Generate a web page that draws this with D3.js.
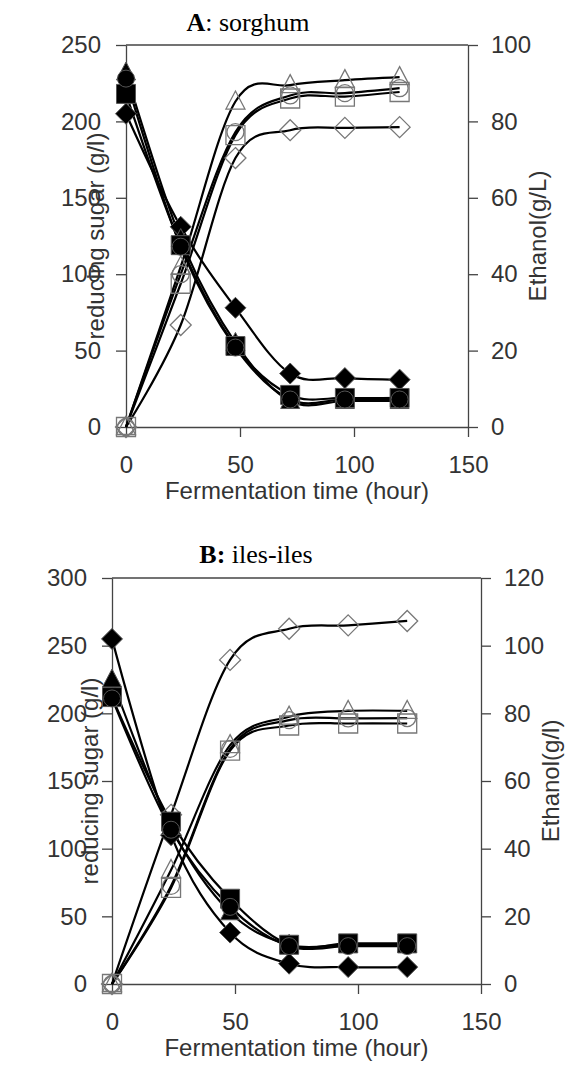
<!DOCTYPE html>
<html lang="en">
<head>
<meta charset="UTF-8">
<title>Reducing sugar and ethanol during fermentation</title>
<script src="https://cdn.jsdelivr.net/npm/d3@7"></script>
<style>
	body { margin: 0; background: #fff; }
	svg text { font-family: "Liberation Sans", Arial, sans-serif; fill: #333; }
	text.title { font-family: "Liberation Serif", "Times New Roman", serif; fill: #000; }
</style>
</head>
<body>
<svg id="chart" width="575" height="1068"></svg>
<script>

// fermentation time points (hour)
const hours = [0, 24, 48, 72, 96, 120];
const xTicks = [0, 50, 100, 150];

// A: sorghum - reducing sugar (g/l), filled markers
const sugarA_diamond  = [205, 131, 78, 35, 32, 31];
const sugarA_triangle = [232, 123, 55, 17, 17, 17];
const sugarA_square   = [218, 119, 53, 21, 19, 19];
const sugarA_circle   = [228, 118, 52, 18, 18, 18];
// A: sorghum - ethanol (g/L), open markers
const ethA_diamond  = [0, 26.7, 70.4, 77.7, 78.3, 78.5];
const ethA_triangle = [0, 42, 85.2, 89.5, 90.8, 91.6];
const ethA_square   = [0, 37.5, 76.4, 86, 86.5, 87.7];
const ethA_circle   = [0, 40, 77.2, 86.8, 87.4, 88.7];
const sugarTicksA = [0, 50, 100, 150, 200, 250];
const ethTicksA = [0, 20, 40, 60, 80, 100];

// B: iles-iles - reducing sugar (g/l), filled markers
const sugarB_diamond  = [255, 110, 38, 15, 12.5, 12.5];
const sugarB_triangle = [225, 116, 53, 29, 29, 29];
const sugarB_square   = [212, 120, 63, 29, 30, 30];
const sugarB_circle   = [211, 114, 57, 28, 28, 28];
// B: iles-iles - ethanol (g/l), open markers
const ethB_diamond  = [0, 50, 95.8, 105, 106, 107.3];
const ethB_triangle = [0, 33.7, 70.6, 79, 80.7, 80.7];
const ethB_square   = [0, 28.4, 69, 76.4, 77, 77];
const ethB_circle   = [0, 29, 69.5, 78, 78.5, 78.6];
const sugarTicksB = [0, 50, 100, 150, 200, 250, 300];
const ethTicksB = [0, 20, 40, 60, 80, 100, 120];

const svg = d3.select('#chart');

function markerPath(shape){
	if (shape === 'square') return 'M-9.5,-9.5h19v19h-19Z';
	if (shape === 'diamond') return 'M0,-10.5L10.5,0L0,10.5L-10.5,0Z';
	if (shape === 'triangle') return 'M0,-10.5L9.5,7.5L-9.5,7.5Z';
	return 'M8.5,0A8.5,8.5 0 1,1 -8.5,0A8.5,8.5 0 1,1 8.5,0Z';
}

function drawPanel(p){
	const x = d3.scaleLinear().domain([0, 150]).range([p.left, p.right]);
	const yL = d3.scaleLinear().domain([0, p.sugarMax]).range([p.bottom, p.top]);
	const yR = d3.scaleLinear().domain([0, p.ethMax]).range([p.bottom, p.top]);
	const g = svg.append('g');

	// top border of the plot area
	g.append('line')
		.attr('x1', p.left).attr('x2', p.right)
		.attr('y1', p.top).attr('y2', p.top)
		.attr('stroke', '#444').attr('stroke-width', 1.3);

	const axL = g.append('g').attr('transform', `translate(${p.left},0)`)
		.call(d3.axisLeft(yL).tickValues(p.sugarTicks).tickSize(10).tickPadding(15).tickSizeOuter(0));
	const axR = g.append('g').attr('transform', `translate(${p.right},0)`)
		.call(d3.axisRight(yR).tickValues(p.ethTicks).tickSize(10).tickPadding(13).tickSizeOuter(0));
	const axB = g.append('g').attr('transform', `translate(0,${p.bottom})`)
		.call(d3.axisBottom(x).tickValues(xTicks).tickSize(10).tickPadding(19).tickSizeOuter(0));

	[axL, axR, axB].forEach(a => {
		a.selectAll('path,line').attr('stroke', '#444').attr('stroke-width', 1.3);
		a.selectAll('text').attr('font-size', 24).attr('fill', '#333')
			.attr('font-family', '"Liberation Sans", Arial, sans-serif');
	});

	// axis titles
	const midY = (p.top + p.bottom) / 2;
	g.append('text')
		.attr('transform', `translate(${p.yLabelX},${midY}) rotate(-90)`)
		.attr('text-anchor', 'middle').attr('font-size', 24)
		.text('reducing sugar (g/l)');
	g.append('text')
		.attr('transform', `translate(${p.right + 78},${midY}) rotate(-90)`)
		.attr('text-anchor', 'middle').attr('font-size', 24)
		.text(p.ethLabel);
	g.append('text')
		.attr('x', (p.left + p.right) / 2).attr('y', p.bottom + 72)
		.attr('text-anchor', 'middle').attr('font-size', 24)
		.text('Fermentation time (hour)');

	// panel title
	const t = g.append('text').attr('class', 'title')
		.attr('x', p.titleX).attr('y', p.titleY)
		.attr('text-anchor', 'middle').attr('font-size', 26);
	t.append('tspan').attr('font-weight', 'bold').text(p.titleBold);
	t.append('tspan').text(p.titleRest);

	const line = scale => d3.line()
		.x((d, i) => x(hours[i]))
		.y(d => scale(d))
		.curve(d3.curveCardinal.tension(0));

	// smoothed curves
	p.series.forEach(s => {
		g.append('path')
			.attr('d', line(s.axis === 'left' ? yL : yR)(s.values))
			.attr('fill', 'none').attr('stroke', '#000').attr('stroke-width', 2.2);
	});

	// markers
	p.series.forEach(s => {
		const sc = s.axis === 'left' ? yL : yR;
		g.append('g').selectAll('path')
			.data(s.values)
			.join('path')
			.attr('transform', (d, i) => `translate(${x(hours[i])},${sc(d)})`)
			.attr('d', markerPath(s.shape))
			.attr('fill', s.filled ? '#000' : 'none')
			.attr('stroke', s.filled ? '#555' : '#777')
			.attr('stroke-width', s.filled ? 1 : 1.3);
	});
}

drawPanel({
	left: 126, right: 468, top: 45, bottom: 427,
	sugarMax: 250, ethMax: 100,
	sugarTicks: sugarTicksA, ethTicks: ethTicksA,
	ethLabel: 'Ethanol(g/L)', yLabelX: 104,
	titleX: 248, titleY: 31, titleBold: 'A', titleRest: ': sorghum',
	series: [
		{values: ethA_diamond, shape: 'diamond', filled: false, axis: 'right'},
		{values: ethA_triangle, shape: 'triangle', filled: false, axis: 'right'},
		{values: ethA_square, shape: 'square', filled: false, axis: 'right'},
		{values: ethA_circle, shape: 'circle', filled: false, axis: 'right'},
		{values: sugarA_diamond, shape: 'diamond', filled: true, axis: 'left'},
		{values: sugarA_triangle, shape: 'triangle', filled: true, axis: 'left'},
		{values: sugarA_square, shape: 'square', filled: true, axis: 'left'},
		{values: sugarA_circle, shape: 'circle', filled: true, axis: 'left'}
	]
});

drawPanel({
	left: 112, right: 481, top: 578, bottom: 984,
	sugarMax: 300, ethMax: 120,
	sugarTicks: sugarTicksB, ethTicks: ethTicksB,
	ethLabel: 'Ethanol(g/l)', yLabelX: 98,
	titleX: 256, titleY: 563, titleBold: 'B:', titleRest: ' iles-iles',
	series: [
		{values: ethB_diamond, shape: 'diamond', filled: false, axis: 'right'},
		{values: ethB_triangle, shape: 'triangle', filled: false, axis: 'right'},
		{values: ethB_square, shape: 'square', filled: false, axis: 'right'},
		{values: ethB_circle, shape: 'circle', filled: false, axis: 'right'},
		{values: sugarB_diamond, shape: 'diamond', filled: true, axis: 'left'},
		{values: sugarB_triangle, shape: 'triangle', filled: true, axis: 'left'},
		{values: sugarB_square, shape: 'square', filled: true, axis: 'left'},
		{values: sugarB_circle, shape: 'circle', filled: true, axis: 'left'}
	]
});

</script>
</body>
</html>
